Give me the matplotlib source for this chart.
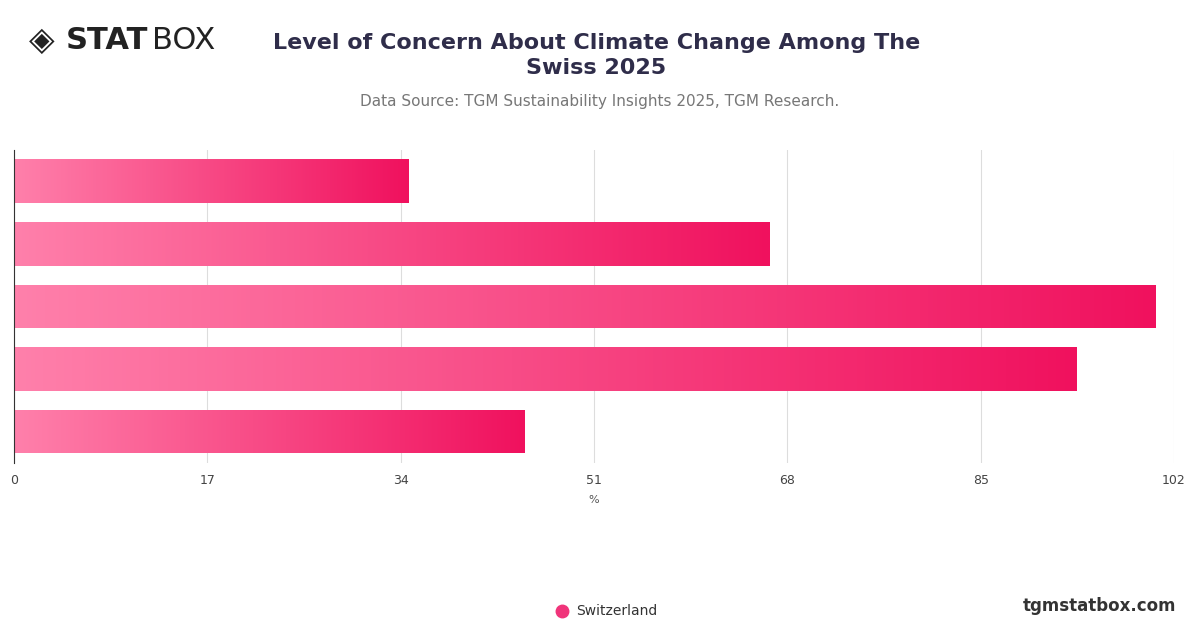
import matplotlib
matplotlib.use("Agg")
import matplotlib.pyplot as plt
import numpy as np
from matplotlib.colors import LinearSegmentedColormap
from matplotlib.patches import Rectangle

categories = ["A", "B", "C", "D", "E"]
values = [34.7, 66.4, 100.4, 93.4, 44.9]
ticks = [0, 17, 34, 51, 68, 85, 102]
series = "Switzerland"

fig = plt.figure(figsize=(12, 6.28), dpi=100)
ax = fig.add_axes([0.0117, 0.263, 0.9666, 0.498])
cmap = LinearSegmentedColormap.from_list("g", ["#ff80ab", "#f0115e"])
grad = np.linspace(0, 1, 256).reshape(1, -1)
h = 0.7
for i, v in enumerate(values):
    im = ax.imshow(grad, cmap=cmap, aspect="auto", extent=[0, v, i + h/2, i - h/2], zorder=2)
    r = Rectangle((0, i - h/2), v, h, transform=ax.transData, fill=False, lw=0)
    ax.add_patch(r)
    im.set_clip_path(r)
ax.set_xlim(0, 102)
ax.set_ylim(len(values) - 0.5, -0.5)
ax.set_xticks(ticks)
ax.set_xticklabels([str(t) for t in ticks], fontsize=9, color="#444")
ax.set_yticks([])
ax.grid(axis="x", color="#dddddd", lw=0.8, zorder=0)
for s in ["top", "right", "bottom"]:
    ax.spines[s].set_visible(False)
ax.spines["left"].set_color("#333")
ax.tick_params(axis="x", length=0, pad=8)
ax.set_xlabel("%", fontsize=8, color="#555", labelpad=6)

fig.text(0.497, 0.912, "Level of Concern About Climate Change Among The\nSwiss 2025",
         ha="center", va="center", fontsize=16, fontweight="bold", color="#2f2d4a", linespacing=1.3)
fig.text(0.5, 0.838, "Data Source: TGM Sustainability Insights 2025, TGM Research.",
         ha="center", va="center", fontsize=11, color="#777")
fig.text(0.055, 0.936, "STAT", fontsize=22, fontweight="bold", color="#222", va="center")
fig.text(0.127, 0.936, "BOX", fontsize=22, color="#222", va="center")
fig.text(0.035, 0.936, "◈", fontsize=24, color="#222", va="center", ha="center")
fig.text(0.98, 0.035, "tgmstatbox.com", ha="right", va="center", fontsize=12, fontweight="bold", color="#333")
fig.lines.append(plt.Line2D([0.468], [0.027], marker="o", ms=9, color="#f0347a", transform=fig.transFigure))
fig.text(0.48, 0.027, series, va="center", fontsize=10, color="#333")
fig.savefig("out.png", dpi=100)
